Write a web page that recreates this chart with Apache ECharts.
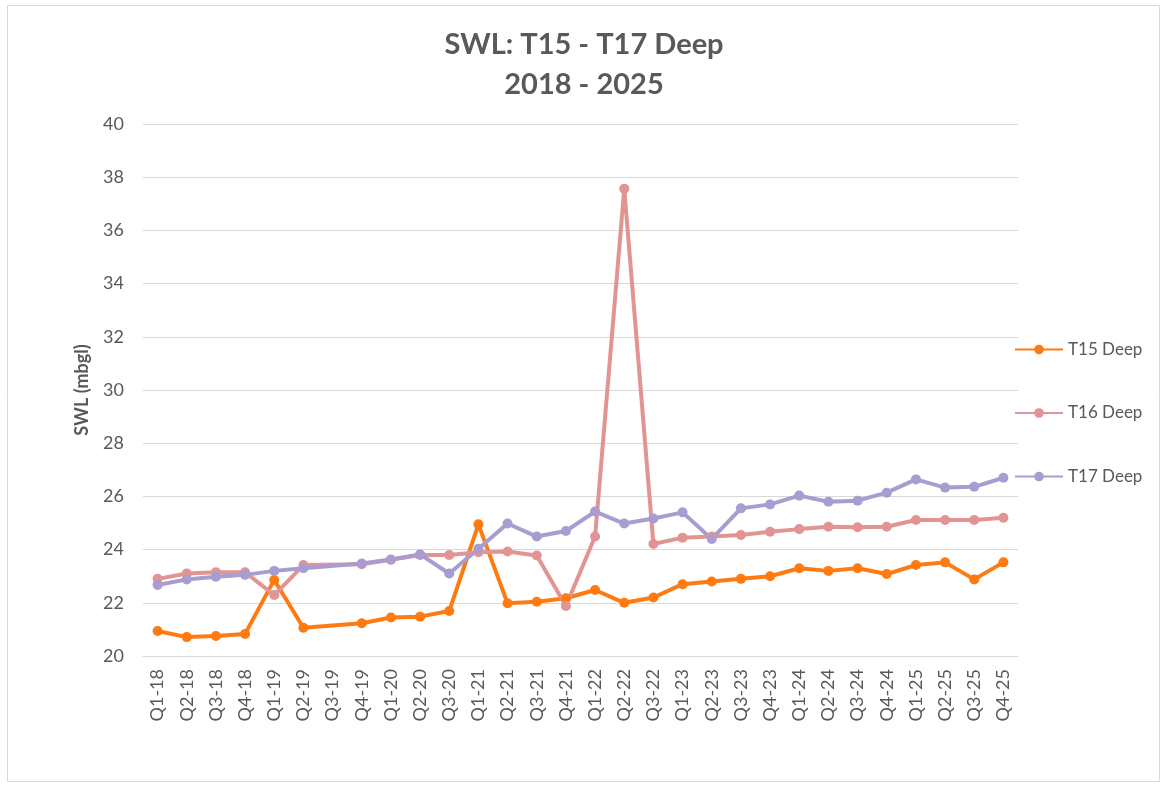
<!DOCTYPE html>
<html>
<head>
<meta charset="utf-8">
<script src="https://cdn.jsdelivr.net/npm/echarts@6/dist/echarts.min.js"></script>
<style>
html,body{margin:0;padding:0;background:#fff;}
#chart{width:1168px;height:785px;}
</style>
</head>
<body>
<div id="chart"></div>
<script>
const categories = ['Q1-18','Q2-18','Q3-18','Q4-18','Q1-19','Q2-19','Q3-19','Q4-19','Q1-20','Q2-20','Q3-20','Q1-21','Q2-21','Q3-21','Q4-21','Q1-22','Q2-22','Q3-22','Q1-23','Q2-23','Q3-23','Q4-23','Q1-24','Q2-24','Q3-24','Q4-24','Q1-25','Q2-25','Q3-25','Q4-25'];
const t15 = [20.94,20.71,20.75,20.83,22.86,21.06,null,21.23,21.45,21.48,21.69,24.95,21.98,22.04,22.17,22.48,22.0,22.2,22.7,22.8,22.9,23.0,23.3,23.2,23.3,23.08,23.42,23.52,22.88,23.52];
const t16 = [22.9,23.1,23.15,23.15,22.29,23.42,null,23.45,23.62,23.8,23.8,23.9,23.93,23.78,21.88,24.49,37.57,24.21,24.45,24.49,24.55,24.67,24.77,24.86,24.84,24.86,25.11,25.11,25.11,25.2];
const t17 = [22.67,22.88,22.98,23.05,23.2,23.3,null,23.48,23.63,23.82,23.1,24.03,24.98,24.49,24.7,25.43,24.98,25.17,25.4,24.4,25.55,25.7,26.03,25.8,25.84,26.14,26.64,26.33,26.36,26.7];
const yTicks = {min:20, max:40, interval:2};

const FONT = 'Lato, "Open Sans", sans-serif';
const TXT = '#595959';
const chart = echarts.init(document.getElementById('chart'), null, {renderer:'canvas'});

function mk(name, data, color){
  return {
    name, type:'line', data, connectNulls:true,
    symbol:'circle', symbolSize:10, showSymbol:true,
    lineStyle:{color, width:4},
    itemStyle:{color},
    animation:false
  };
}

chart.setOption({
  backgroundColor:'#fff',
  animation:false,
  graphic:[{type:'rect', shape:{x:7.5,y:5.5,width:1152,height:776}, style:{fill:'none', stroke:'#d9d9d9', lineWidth:1}, silent:true}],
  title:{
    text:'SWL: T15 - T17 Deep\n2018 - 2025',
    left:'center', top:20,
    textStyle:{fontFamily:FONT, fontSize:29, fontWeight:'bold', color:TXT, lineHeight:40}
  },
  legend:{
    orient:'vertical', left:1009, top:336,
    itemWidth:48, itemHeight:12, itemGap:46.5,
    textStyle:{fontFamily:FONT, fontSize:17, color:TXT},
    data:['T15 Deep','T16 Deep','T17 Deep']
  },
  grid:{left:143, right:150, top:124, bottom:129, containLabel:false},
  xAxis:{
    type:'category', data:categories, boundaryGap:true,
    axisLine:{lineStyle:{color:'#d9d9d9', width:1}},
    axisTick:{show:false},
    axisLabel:{rotate:90, interval:0, fontFamily:FONT, fontSize:18, color:TXT, margin:13}
  },
  yAxis:{
    type:'value', min:yTicks.min, max:yTicks.max, interval:yTicks.interval,
    name:'SWL (mbgl)', nameLocation:'middle', nameGap:52, nameRotate:90,
    nameTextStyle:{fontFamily:FONT, fontSize:18, fontWeight:'bold', color:TXT},
    axisLine:{show:false}, axisTick:{show:false},
    axisLabel:{fontFamily:FONT, fontSize:18, color:TXT, margin:19},
    splitLine:{lineStyle:{color:'#d9d9d9', width:1}}
  },
  series:[
    mk('T15 Deep', t15, '#FF7A10'),
    mk('T16 Deep', t16, '#E29494'),
    mk('T17 Deep', t17, '#A99CD0')
  ]
});
</script>
</body>
</html>
